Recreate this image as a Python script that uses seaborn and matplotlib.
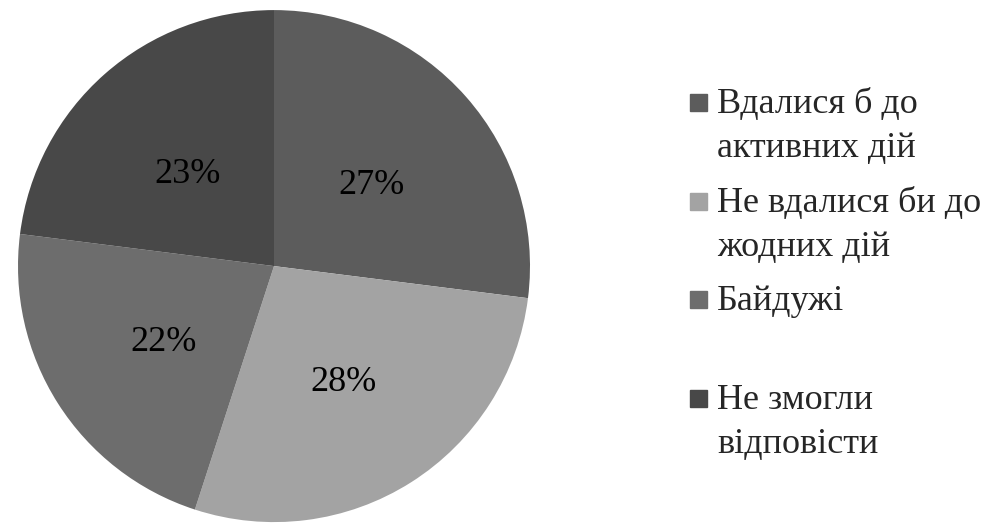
import matplotlib
matplotlib.use('Agg')
import matplotlib.pyplot as plt
from matplotlib.patches import Rectangle
from matplotlib.transforms import ScaledTranslation
import seaborn as sns

sns.set_theme(style='white')
plt.rcParams['font.family'] = ['Liberation Serif', 'DejaVu Serif']

labels = ['Вдалися б до\nактивних дій', 'Не вдалися би до\nжодних дій',
          'Байдужі', 'Не змогли\nвідповісти']
shares = [27, 28, 22, 23]
colors = ['#5c5c5c', '#a3a3a3', '#6d6d6d', '#484848']

fig = plt.figure(figsize=(10, 5.29), dpi=100)
ax = fig.add_axes([0.018, 0.013, 0.512, 0.968])

wedges, texts, pcts = ax.pie(
    shares, colors=colors, startangle=90, counterclock=False,
    autopct='%1.0f%%', pctdistance=0.51,
    textprops=dict(fontsize=26, color='black'),
    wedgeprops=dict(linewidth=0))
# nudge the numbers down a little, as in the source
for t in pcts:
    t.set_transform(t.get_transform()
                    + ScaledTranslation(0, -0.06, fig.dpi_scale_trans))
ax.set_xlim(-1, 1)
ax.set_ylim(-1, 1)
ax.set_aspect('equal')

# legend drawn by hand so the square sits on the first line
H = 529
for i, (lab, col) in enumerate(zip(labels, colors)):
    base = 113 + i * 98.7
    fig.patches.append(Rectangle((0.690, 1 - (base - 2) / H), 0.017, 17 / H,
                                 transform=fig.transFigure, color=col))
    for j, line in enumerate(lab.split('\n')):
        fig.text(0.717, 1 - (base + j * 44) / H, line, fontsize=26,
                 va='baseline', ha='left')

fig.savefig('out.png', dpi=100)
